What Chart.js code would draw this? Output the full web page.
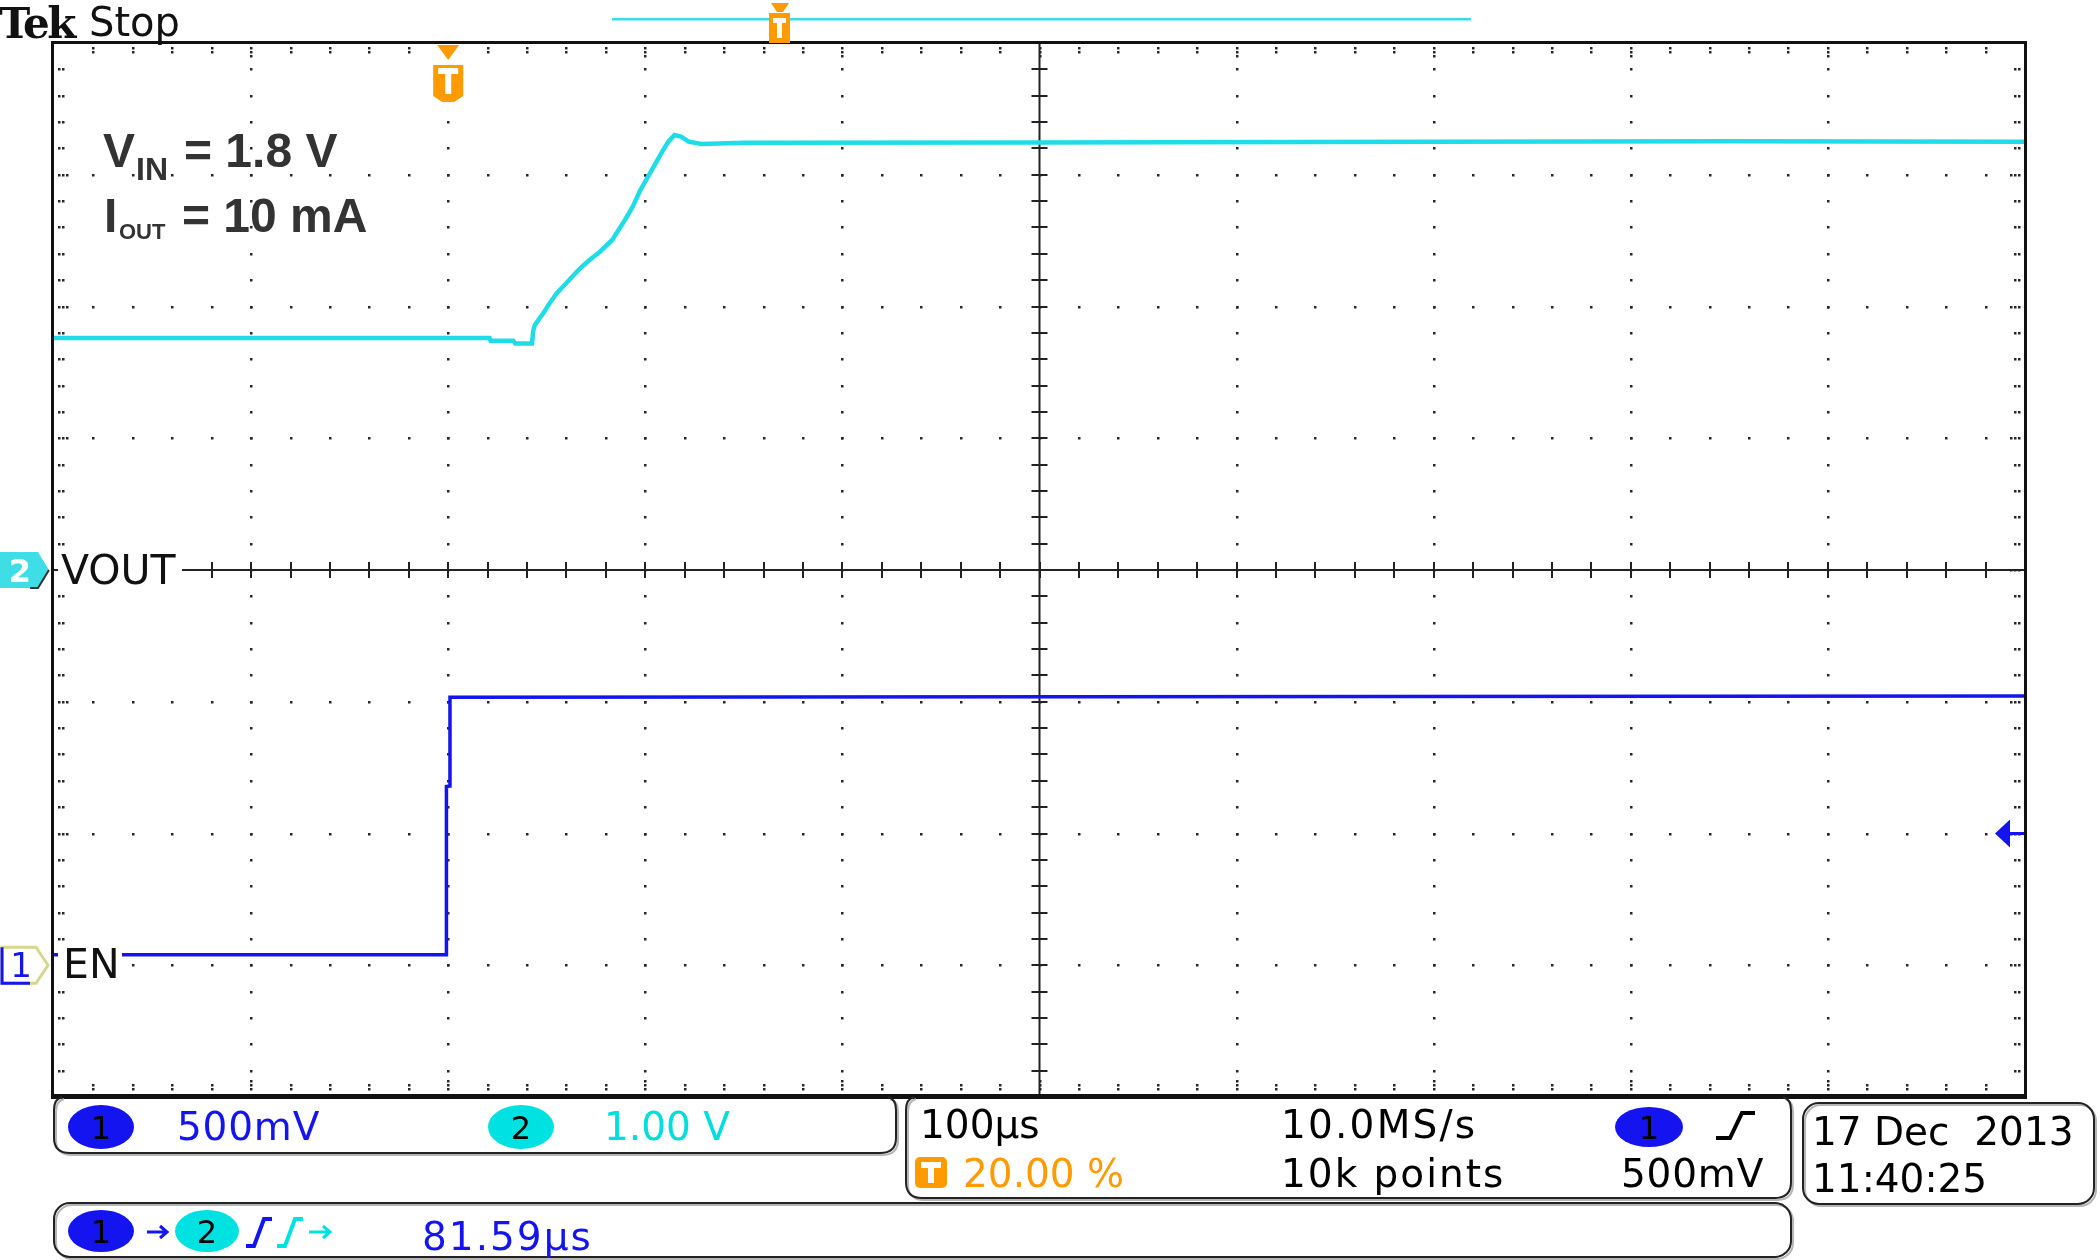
<!DOCTYPE html>
<html>
<head>
<meta charset="utf-8">
<script src="https://cdn.jsdelivr.net/npm/chart.js@4.4.0/dist/chart.umd.min.js"></script>
<style>
html,body{margin:0;padding:0;background:#fff;}
#wrap{position:relative;width:2100px;height:1260px;overflow:hidden;background:#fff;}
#c{position:absolute;left:0;top:0;}
#ov{position:absolute;left:0;top:0;pointer-events:none;}
</style>
</head>
<body>
<div id="wrap">
<canvas id="c" width="2100" height="1260"></canvas>
<svg id="ov" width="2100" height="1260" xmlns="http://www.w3.org/2000/svg">
  <!-- header -->
  <text x="-1" y="38" font-family="DejaVu Serif" font-size="42" font-weight="bold" letter-spacing="-2.5" fill="#111">Tek</text>
  <text x="89" y="36" font-family="DejaVu Sans" font-size="40" fill="#111">Stop</text>
  <!-- record view bar -->
  <rect x="612" y="18" width="859" height="2.5" fill="#3adbe4"/>
  <path d="M771 3 H789 L783 12 H777 Z" fill="#ff9a00"/>
  <rect x="769" y="13" width="21" height="30" fill="#ff9a00"/>
  <path d="M773 18 H786 V23 H782 V38 H777 V23 H773 Z" fill="#fff"/>
  <!-- annotation -->
  <g font-family="Liberation Sans" font-weight="bold" fill="#333">
    <text x="103" y="167" font-size="48">V</text>
    <text x="136" y="180" font-size="32">IN</text>
    <text x="184" y="167" font-size="48">= 1.8 V</text>
    <text x="104" y="232" font-size="48">I</text>
    <text x="119" y="239" font-size="22">OUT</text>
    <text x="182" y="232" font-size="48">= 10 mA</text>
  </g>
  <!-- panels -->
  <g fill="none" stroke-width="2">
    <g stroke="#b5b5b5" transform="translate(2,2)">
      <path d="M62 1097 Q54 1099 54 1110 V1138 Q54 1153 70 1153 H880 Q896 1153 896 1138 V1110 Q896 1099 888 1097"/>
      <path d="M914 1097 Q906 1099 906 1110 V1182 Q906 1198 922 1198 H1775 Q1791 1198 1791 1182 V1110 Q1791 1099 1783 1097"/>
      <rect x="1803" y="1103" width="291" height="101" rx="16"/>
      <rect x="54" y="1203" width="1737" height="54" rx="16"/>
    </g>
    <g stroke="#222">
      <path d="M62 1097 Q54 1099 54 1110 V1138 Q54 1153 70 1153 H880 Q896 1153 896 1138 V1110 Q896 1099 888 1097"/>
      <path d="M914 1097 Q906 1099 906 1110 V1182 Q906 1198 922 1198 H1775 Q1791 1198 1791 1182 V1110 Q1791 1099 1783 1097"/>
      <rect x="1803" y="1103" width="291" height="101" rx="16"/>
      <rect x="54" y="1203" width="1737" height="54" rx="16"/>
    </g>
  </g>
  <g font-family="DejaVu Sans" font-size="39">
    <!-- panel 1 -->
    <ellipse cx="101" cy="1127" rx="33" ry="22" fill="#1414f0"/>
    <text x="101" y="1139" font-size="32" text-anchor="middle" fill="#000">1</text>
    <text x="177" y="1140" fill="#1414f0" letter-spacing="0.8">500mV</text>
    <ellipse cx="521" cy="1127" rx="33" ry="22" fill="#00e2e2"/>
    <text x="521" y="1139" font-size="32" text-anchor="middle" fill="#000">2</text>
    <text x="604" y="1140" fill="#00dede">1.00 V</text>
    <!-- panel 2 -->
    <text x="920" y="1138" fill="#000">100µs</text>
    <rect x="915" y="1157" width="32" height="31" rx="5" fill="#ff9a00"/>
    <path d="M921 1162 H941 V1168 H934 V1183 H928 V1168 H921 Z" fill="#fff"/>
    <text x="963" y="1187" fill="#ff9a00">20.00 %</text>
    <text x="1281" y="1138" fill="#000" letter-spacing="2.2">10.0MS/s</text>
    <text x="1281" y="1187" fill="#000" letter-spacing="2">10k points</text>
    <ellipse cx="1649" cy="1127" rx="34" ry="20" fill="#1414f0"/>
    <text x="1649" y="1139" font-size="32" text-anchor="middle" fill="#000">1</text>
    <path d="M1716 1138 H1730 L1742 1113 H1755" fill="none" stroke="#000" stroke-width="4"/>
    <text x="1621" y="1187" fill="#000" letter-spacing="0.8">500mV</text>
    <!-- panel 3 -->
    <text x="1812" y="1145" fill="#000" xml:space="preserve">17 Dec  2013</text>
    <text x="1812" y="1192" fill="#000">11:40:25</text>
    <!-- panel 4 -->
    <ellipse cx="101" cy="1231" rx="33" ry="21" fill="#1414f0"/>
    <text x="101" y="1243" font-size="32" text-anchor="middle" fill="#000">1</text>
    <path d="M147 1232 H166 M160 1226 L167 1232 L160 1238" fill="none" stroke="#1414f0" stroke-width="3"/>
    <ellipse cx="207" cy="1231" rx="32" ry="21" fill="#00e2e2"/>
    <text x="207" y="1243" font-size="32" text-anchor="middle" fill="#000">2</text>
    <path d="M246 1246 H254 L264 1219 H272" fill="none" stroke="#1414f0" stroke-width="4"/>
    <path d="M277 1246 H285 L295 1219 H303" fill="none" stroke="#00e2e2" stroke-width="4"/>
    <path d="M309 1232 H329 M323 1226 L330 1232 L323 1238" fill="none" stroke="#00e2e2" stroke-width="3"/>
    <text x="422" y="1250" fill="#1414f0" letter-spacing="2">81.59µs</text>
  </g>
</svg>
</div>
<script>
// ---------------- data (read from the screen capture) ----------------
// time in µs relative to the trigger; 100 µs/div, trigger at 20 % of record
const timeVout = [-200, 21, 21.5, 33, 34, 42.5, 43.2, 44, 48.3, 50.8, 55, 60.1, 63.5, 67.7, 72.8, 77, 83.2, 89.7, 93.6, 97.5, 101.4, 105.2, 109.1, 111.7, 114.8, 118.1, 122, 128.5, 150.6, 300, 500, 650, 800];
const voltVout = [1.76, 1.76, 1.74, 1.74, 1.72, 1.72, 1.82, 1.86, 1.95, 2.01, 2.10, 2.18, 2.235, 2.30, 2.366, 2.416, 2.505, 2.657, 2.758, 2.884, 2.985, 3.087, 3.188, 3.251, 3.302, 3.289, 3.251, 3.233, 3.243, 3.245, 3.25, 3.255, 3.25];
const timeEn = [-200, -1.0, -0.9, 0.8, 0.9, 800];
const voltEn = [0.04, 0.04, 0.678, 0.68, 1.017, 1.022];

const xTicks = [-200, -100, 0, 100, 200, 300, 400, 500, 600, 700, 800]; // µs
const yTicks = [-4, -3, -2, -1, 0, 1, 2, 3, 4];                          // V on CH2 (1.00 V/div)
const ch1Range = [-0.5, 3.5];   // CH1 500 mV/div, ground 3 div below centre
const trigTime = 0;             // µs
const trigLevel = 0.5;          // V on CH1
const chLabels = ['VOUT', 'EN'];

const BLUE = '#1414f0', CYAN = '#1fdde8', ORANGE = '#ff9a00';

const scopePlugin = {
  id: 'scope',
  beforeDatasetsDraw(chart) {
    const {ctx, chartArea: a, scales} = chart;
    const x = scales.x, y = scales.y;
    const xs = (xTicks[1] - xTicks[0]) / 5, ys = (yTicks[1] - yTicks[0]) / 5;
    const nx = (xTicks.length - 1) * 5, ny = (yTicks.length - 1) * 5;
    const x0 = xTicks[0], y0 = yTicks[0];
    const xc = x.getPixelForValue((xTicks[0] + xTicks[xTicks.length - 1]) / 2);
    const yc = y.getPixelForValue(0);
    ctx.save();
    ctx.fillStyle = '#fff';
    ctx.fillRect(a.left, a.top, a.width, a.height);
    const dot = (px, py) => ctx.fillRect(Math.round(px) - 1, Math.round(py) - 1, 2.5, 2.5);
    ctx.fillStyle = '#262626';
    // dotted major grid
    xTicks.forEach((t, i) => {
      if (i === 0 || i === xTicks.length - 1 || i === 5) return;
      const px = x.getPixelForValue(t);
      for (let k = 1; k < ny; k++) dot(px, y.getPixelForValue(y0 + k * ys));
    });
    yTicks.forEach((v, j) => {
      if (j === 0 || j === yTicks.length - 1 || v === 0) return;
      const py = y.getPixelForValue(v);
      for (let k = 1; k < nx; k++) dot(x.getPixelForValue(x0 + k * xs), py);
    });
    // border tick dots
    for (let k = 1; k < ny; k++) {
      const py = y.getPixelForValue(y0 + k * ys);
      const offs = k % 5 === 0 ? [5, 9, 13] : [5, 9];
      offs.forEach(o => { dot(a.left + o, py); dot(a.right - o - 1, py); });
    }
    for (let k = 1; k < nx; k++) {
      const px = x.getPixelForValue(x0 + k * xs);
      const offs = k % 5 === 0 ? [5, 9, 13] : [5, 9];
      offs.forEach(o => { dot(px, a.top + o); dot(px, a.bottom - o - 3); });
    }
    // centre cross with minor ticks
    ctx.fillStyle = '#222';
    ctx.fillRect(a.left, yc - 1, a.width, 2);
    ctx.fillRect(xc - 1, a.top, 2, a.height);
    for (let k = 1; k < nx; k++) {
      const px = x.getPixelForValue(x0 + k * xs);
      ctx.fillRect(Math.round(px) - 1, yc - 8, 2, 16);
    }
    for (let k = 1; k < ny; k++) {
      const py = y.getPixelForValue(y0 + k * ys);
      ctx.fillRect(xc - 8, Math.round(py) - 1, 16, 2);
    }
    ctx.restore();
  },
  afterDatasetsDraw(chart) {
    const {ctx, chartArea: a, scales} = chart;
    const x = scales.x, y = scales.y, y1 = scales.y1;
    ctx.save();
    // frame
    ctx.fillStyle = '#111';
    ctx.fillRect(a.left - 3, a.top - 2, a.width + 5, 3);
    ctx.fillRect(a.left - 3, a.top - 2, 3, a.height + 4);
    ctx.fillRect(a.right - 1, a.top - 2, 3, a.height + 4);
    ctx.fillRect(a.left - 3, a.bottom - 3, a.width + 5, 5);

    // channel labels
    const g2 = y.getPixelForValue(0), g1 = y1.getPixelForValue(0);
    ctx.font = '41px "DejaVu Sans"';
    ctx.textBaseline = 'alphabetic';
    ctx.fillStyle = '#fff';
    ctx.fillRect(a.left + 4, g2 - 19, 124, 38);
    ctx.fillRect(a.left + 4, g1 - 19, 64, 38);
    ctx.fillStyle = '#111';
    ctx.fillText(chLabels[0], a.left + 7, g2 + 14);
    ctx.fillText(chLabels[1], a.left + 9, g1 + 13);

    // CH2 ground marker (filled)
    ctx.beginPath();
    ctx.moveTo(0, g2 - 18); ctx.lineTo(38, g2 - 18); ctx.lineTo(49, g2); ctx.lineTo(38, g2 + 18); ctx.lineTo(0, g2 + 18);
    ctx.closePath();
    ctx.fillStyle = '#3fdde6';
    ctx.fill();
    ctx.strokeStyle = '#333'; ctx.lineWidth = 2;
    ctx.beginPath(); ctx.moveTo(49, g2); ctx.lineTo(38, g2 + 18); ctx.lineTo(30, g2 + 18); ctx.stroke();
    ctx.fillStyle = '#fff';
    ctx.font = 'bold 32px "DejaVu Sans"';
    ctx.textAlign = 'center';
    ctx.fillText('2', 20, g2 + 12);

    // CH1 ground marker (outlined)
    ctx.lineWidth = 3;
    ctx.strokeStyle = '#d6d68c';
    ctx.beginPath();
    ctx.moveTo(2, g1 - 18); ctx.lineTo(36, g1 - 18); ctx.lineTo(48, g1); ctx.lineTo(36, g1 + 18); ctx.lineTo(2, g1 + 18);
    ctx.closePath(); ctx.stroke();
    ctx.strokeStyle = BLUE;
    ctx.beginPath(); ctx.moveTo(2, g1 - 18); ctx.lineTo(2, g1 + 18); ctx.lineTo(30, g1 + 18); ctx.stroke();
    ctx.fillStyle = BLUE;
    ctx.font = '34px "DejaVu Sans"';
    ctx.fillText('1', 21, g1 + 12);

    // trigger position marker
    const tx = x.getPixelForValue(trigTime);
    ctx.fillStyle = ORANGE;
    ctx.beginPath(); ctx.moveTo(tx - 11, a.top + 2); ctx.lineTo(tx + 11, a.top + 2); ctx.lineTo(tx, a.top + 17); ctx.closePath(); ctx.fill();
    ctx.beginPath();
    ctx.moveTo(tx - 15, a.top + 22); ctx.lineTo(tx + 15, a.top + 22); ctx.lineTo(tx + 15, a.top + 53);
    ctx.lineTo(tx + 6, a.top + 59); ctx.lineTo(tx - 6, a.top + 59); ctx.lineTo(tx - 15, a.top + 53); ctx.closePath(); ctx.fill();
    ctx.fillStyle = '#fff';
    ctx.fillRect(tx - 10, a.top + 25, 20, 6);
    ctx.fillRect(tx - 3, a.top + 25, 6, 26);

    // trigger level arrow (CH1)
    const ty = y1.getPixelForValue(trigLevel);
    ctx.fillStyle = BLUE;
    ctx.beginPath(); ctx.moveTo(a.right - 30, ty); ctx.lineTo(a.right - 15, ty - 14); ctx.lineTo(a.right - 15, ty + 14); ctx.closePath(); ctx.fill();
    ctx.fillRect(a.right - 17, ty - 1.5, 16, 3);
    ctx.restore();
  }
};

new Chart(document.getElementById('c'), {
  type: 'line',
  data: {
    datasets: [
      { label: chLabels[0], yAxisID: 'y', data: timeVout.map((t, i) => ({x: t, y: voltVout[i]})),
        borderColor: CYAN, borderWidth: 4.5, pointRadius: 0, tension: 0, fill: false },
      { label: chLabels[1], yAxisID: 'y1', data: timeEn.map((t, i) => ({x: t, y: voltEn[i]})),
        borderColor: BLUE, borderWidth: 3.5, pointRadius: 0, tension: 0, fill: false }
    ]
  },
  options: {
    responsive: false, animation: false, devicePixelRatio: 1,
    layout: { padding: { left: 54, right: 75, top: 43, bottom: 163 } },
    plugins: { legend: { display: false }, tooltip: { enabled: false }, title: { display: false } },
    scales: {
      x: { type: 'linear', min: xTicks[0], max: xTicks[xTicks.length - 1], display: false },
      y: { type: 'linear', min: yTicks[0], max: yTicks[yTicks.length - 1], display: false },
      y1: { type: 'linear', min: ch1Range[0], max: ch1Range[1], display: false }
    }
  },
  plugins: [scopePlugin]
});
</script>
</body>
</html>
